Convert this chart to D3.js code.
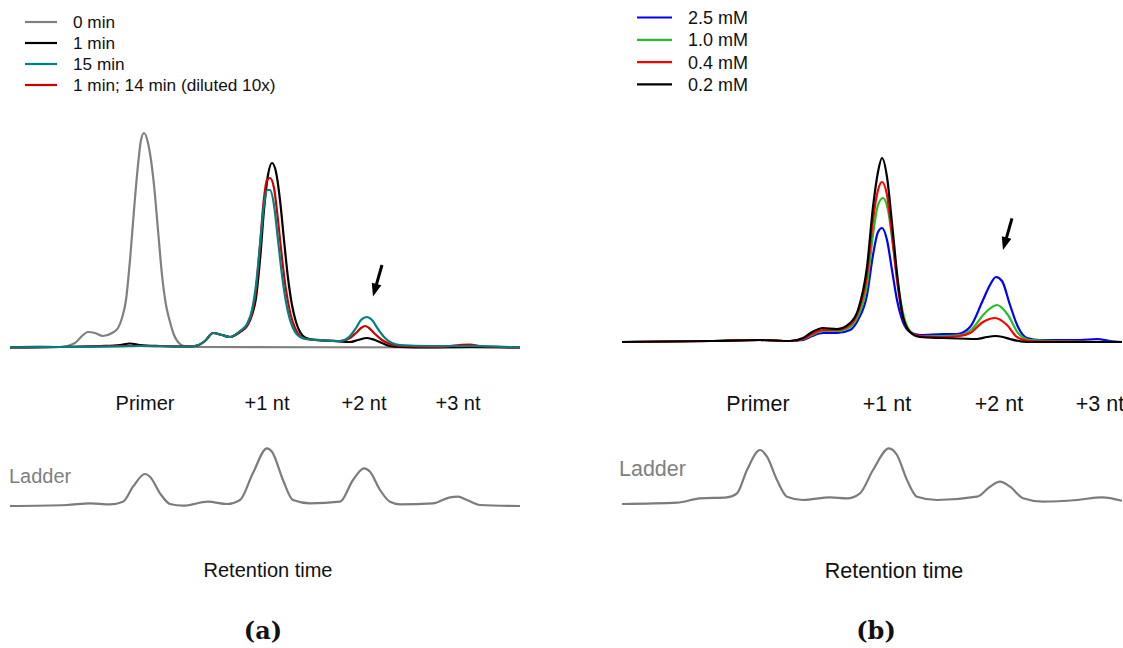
<!DOCTYPE html>
<html>
<head>
<meta charset="utf-8">
<style>
  body { margin: 0; background: #fff; }
  svg { display: block; font-family: "Liberation Sans", Arial, sans-serif; }
</style>
</head>
<body>
<div id="container"></div>
<script src="https://cdn.jsdelivr.net/npm/d3@7"></script>
<script>
    // Data: [retention time (s), signal (mAU)]
    let legendA = ["0 min", "1 min", "15 min", "1 min; 14 min (diluted 10x)"];
    let legendB = ["2.5 mM", "1.0 mM", "0.4 mM", "0.2 mM"];
    let peakLabels = ["Primer", "+1 nt", "+2 nt", "+3 nt"];
    let peakTimesA = [135, 257, 354, 448];
    let peakTimesB = [136, 265, 377, 478];

    let trace0min = [[0,0],[30,1],[50,0.5],[65,4.5],[72,11.5],[78,15.5],[85,14.5],[93,11.5],[102,14.5],[108,19.5],
        [112,29.5],[116,47.5],[120,87.5],[124,137.5],[128,182.5],[131,207.5],[134,214.5],[138,204.5],[141,187.5],
        [144,162.5],[148,117.5],[152,72.5],[156,42.5],[160,25.5],[164,12.5],[168,5.5],[174,1.5],[185,0.5],[510,0]];
    let trace1min = [[0,0],[50,0.5],[90,1.5],[110,2.5],[120,4],[130,2.5],[150,1.5],[175,1],[185,1.5],[195,6.5],
        [203,14.5],[212,12.5],[220,10.5],[230,15.5],[237,21.5],[242,32.5],[246,49.5],[250,87.5],[254,137.5],
        [258,172.5],[262,184.5],[266,175.5],[270,147.5],[274,107.5],[278,69.5],[282,42.5],[286,25.5],[290,15.5],
        [296,9.5],[305,7.5],[323,6.5],[340,5.5],[348,7.5],[357,9.5],[365,7.5],[372,4.5],[380,1.5],[390,0.5],
        [420,0],[460,0.5],[510,0]];
    let trace15min = [[0,0],[50,0.5],[110,1],[130,1.5],[175,1],[185,1.5],[195,6.5],[203,14.5],[212,12.5],[220,10.5],
        [230,16.5],[237,23.5],[242,37.5],[246,62.5],[250,102.5],[254,142.5],[257,157.5],[260,157.5],[264,142.5],
        [268,107.5],[272,72.5],[276,45.5],[280,27.5],[285,15.5],[290,10.5],[296,8.5],[310,7.5],[330,6.5],
        [340,11.5],[346,19.5],[351,27.5],[357,30.5],[362,27.5],[368,18.5],[375,9.5],[382,4.5],[390,2.5],
        [420,1.5],[460,1.5],[510,0]];
    let trace1min14min = [[0,0],[50,0.5],[110,1.5],[130,1.5],[175,1],[185,1.5],[195,6.5],[203,14.5],[212,12.5],
        [220,10.5],[230,15.5],[237,21.5],[242,34.5],[246,57.5],[250,102.5],[254,149.5],[257,167.5],[260,169.5],
        [264,159.5],[268,127.5],[272,89.5],[276,57.5],[280,35.5],[285,19.5],[290,11.5],[296,8.5],[310,7.5],
        [330,6.5],[340,9.5],[346,14.5],[351,19.5],[355,21.5],[359,19.5],[365,13.5],[372,7.5],[380,3.5],
        [390,1.5],[430,0.5],[450,2.5],[460,3],[470,1.5],[510,0]];
    let ladderA = [[0,0],[57,1],[80,2.7],[100,1.7],[113,4.3],[123,19.3],[135,32],[140,29.3],[150,12.7],[160,2],
        [173,0.3],[198,4.3],[217,2],[230,6],[243,33],[257,57.7],[262,54.3],[273,26],[283,6],[300,2.7],[330,4.3],
        [343,26],[354,37.7],[360,34.3],[370,16],[380,4.3],[390,1.7],[423,2.7],[440,8.7],[448,9.3],[457,6],
        [470,1],[510,0]];

    let trace25mM = [[0,0],[88,1],[138,2],[168,1],[181,2],[190,6],[201,9],[215,9],[228,12],[236,22],[245,47],
        [251,87],[256,110],[260,114],[265,102],[270,72],[275,42],[281,20],[288,10],[298,7],[321,8],[335,8],
        [348,15],[361,42],[368,57],[374,65],[380,61],[388,37],[396,15],[405,4],[418,2],[458,2],[475,3],[488,1],[500,0]];
    let trace10mM = [[0,0],[88,1],[138,2],[168,1],[181,3],[190,7],[201,11],[215,11],[228,15],[236,26],[245,57],
        [251,107],[256,137],[261,144],[266,132],[271,97],[276,57],[282,25],[289,10],[298,6],[321,6],[338,7],
        [350,13],[363,29],[375,37],[386,27],[396,9],[408,2],[500,0]];
    let trace04mM = [[0,0],[88,1],[138,2],[168,1],[181,3],[190,8],[201,12],[215,12],[228,17],[236,30],[245,67],
        [251,122],[256,152],[260,160],[265,147],[270,107],[275,62],[281,24],[288,10],[298,6],[321,5],[338,6],
        [348,9],[361,20],[373,24],[385,17],[395,5],[408,1],[500,0]];
    let trace02mM = [[0,0],[88,1],[138,2],[168,1],[181,4],[190,10],[201,14],[215,13],[228,19],[236,32],[245,75],
        [251,135],[256,170],[260,184],[265,165],[270,119],[275,69],[281,25],[288,10],[298,5],[321,4],[355,3],
        [365,5],[373,6],[381,5],[388,3],[405,0],[500,0]];
    let ladderB = [[0,0],[55,1.3],[78,5.7],[105,6.7],[115,10.7],[125,34],[138,54],[145,47.3],[155,24],[165,7.3],
        [181,4],[208,6.7],[225,5.7],[238,10.7],[251,34],[267,55.7],[275,49],[285,24],[295,7.3],[315,4],[355,7.3],
        [368,17.3],[378,22.3],[388,17.3],[401,5.7],[421,2.3],[455,4],[480,6.7],[500,3.3]];

    // arrows: [tail, tip] in data units
    let arrowA = [[372, 82.5], [363, 51]];
    let arrowB = [[390, 123.7], [381, 92]];

    let svg = d3.select("#container")
        .append("svg")
        .attr("width", 1123)
        .attr("height", 648);

    function drawPanel(p) {
        let x = d3.scaleLinear().domain(p.xDomain).range(p.xRange);
        let y = d3.scaleLinear().domain(p.yDomain).range(p.yRange);
        let yL = d3.scaleLinear().domain([0, 60]).range(p.ladderRange);
        let g = svg.append("g");

        let line = d3.line().x((d) => x(d[0])).y((d) => y(d[1])).curve(d3.curveMonotoneX);
        let ladderLine = d3.line().x((d) => x(d[0])).y((d) => yL(d[1])).curve(d3.curveMonotoneX);

        // traces, in drawing order
        p.order.forEach((i) => {
            g.append("path")
                .attr("d", line(p.series[i]))
                .attr("fill", "none")
                .attr("stroke", p.colours[i])
                .attr("stroke-width", 2.2)
                .attr("stroke-linejoin", "round");
        });

        g.append("path")
            .attr("d", ladderLine(p.ladder))
            .attr("fill", "none")
            .attr("stroke", "#7c7c7c")
            .attr("stroke-width", 2.2);

        // arrow
        let t0 = [x(p.arrow[0][0]), y(p.arrow[0][1])];
        let t1 = [x(p.arrow[1][0]), y(p.arrow[1][1])];
        let dx = t1[0] - t0[0], dy = t1[1] - t0[1];
        let len = Math.hypot(dx, dy);
        let ux = dx / len, uy = dy / len;
        let headL = 13, headW = 5;
        let bx = t1[0] - ux * headL, by = t1[1] - uy * headL;
        g.append("line")
            .attr("x1", t0[0]).attr("y1", t0[1])
            .attr("x2", bx + ux * 2).attr("y2", by + uy * 2)
            .attr("stroke", "#000").attr("stroke-width", 3);
        g.append("path")
            .attr("d", `M${t1[0]},${t1[1]}L${bx - uy * headW},${by + ux * headW}L${bx + uy * headW},${by - ux * headW}Z`)
            .attr("fill", "#000");

        // legend
        let leg = g.selectAll(".leg")
            .data(p.legend)
            .enter()
            .append("g")
            .attr("transform", (d, i) => `translate(0, ${p.legY0 + i * p.legDy})`);
        leg.append("line")
            .attr("x1", p.legX).attr("x2", p.legX + p.legLen)
            .attr("stroke", (d, i) => p.colours[i])
            .attr("stroke-width", 2.2);
        leg.append("text")
            .attr("x", p.legTextX)
            .attr("y", p.legFont * 0.37)
            .attr("font-size", p.legFont)
            .attr("fill", "#111")
            .text((d) => d);

        // peak labels
        g.selectAll(".peak")
            .data(peakLabels)
            .enter()
            .append("text")
            .attr("x", (d, i) => x(p.peakTimes[i]))
            .attr("y", p.peakY)
            .attr("text-anchor", "middle")
            .attr("font-size", p.labelFont)
            .attr("fill", "#111")
            .text((d) => d);

        g.append("text")
            .attr("x", p.ladderX)
            .attr("y", p.ladderY)
            .attr("font-size", p.labelFont)
            .attr("fill", "#808080")
            .text("Ladder");

        g.append("text")
            .attr("x", p.axisX)
            .attr("y", p.axisY)
            .attr("text-anchor", "middle")
            .attr("font-size", p.labelFont)
            .attr("fill", "#111")
            .text("Retention time");

        g.append("text")
            .attr("x", p.capX)
            .attr("y", 639)
            .attr("text-anchor", "middle")
            .attr("font-family", "'DejaVu Serif', 'Liberation Serif', serif")
            .attr("font-weight", "bold")
            .attr("font-size", 24)
            .attr("fill", "#111")
            .text(p.caption);
    }

    drawPanel({
        series: [trace0min, trace1min, trace15min, trace1min14min],
        colours: ["#808080", "#000000", "#008080", "#cc0000"],
        order: [0, 1, 3, 2],
        legend: legendA,
        ladder: ladderA,
        peakTimes: peakTimesA,
        arrow: arrowA,
        xDomain: [0, 510], xRange: [10, 520],
        yDomain: [0, 215], yRange: [347.5, 132.5],
        ladderRange: [506, 446],
        legX: 25, legLen: 32, legTextX: 73, legY0: 22, legDy: 21, legFont: 17.2,
        labelFont: 20, peakY: 410, ladderX: 9, ladderY: 483,
        axisX: 268, axisY: 577, capX: 263, caption: "(a)"
    });

    drawPanel({
        series: [trace25mM, trace10mM, trace04mM, trace02mM],
        colours: ["#0000ff", "#22c022", "#ff0000", "#000000"],
        order: [0, 1, 2, 3],
        legend: legendB,
        ladder: ladderB,
        peakTimes: peakTimesB,
        arrow: arrowB,
        xDomain: [0, 500], xRange: [622, 1122],
        yDomain: [0, 184], yRange: [342, 158],
        ladderRange: [504, 444],
        legX: 637, legLen: 35, legTextX: 688, legY0: 17.5, legDy: 22.3, legFont: 18,
        labelFont: 21.5, peakY: 411, ladderX: 619, ladderY: 476,
        axisX: 894, axisY: 578, capX: 876, caption: "(b)"
    });
</script>
</body>
</html>
